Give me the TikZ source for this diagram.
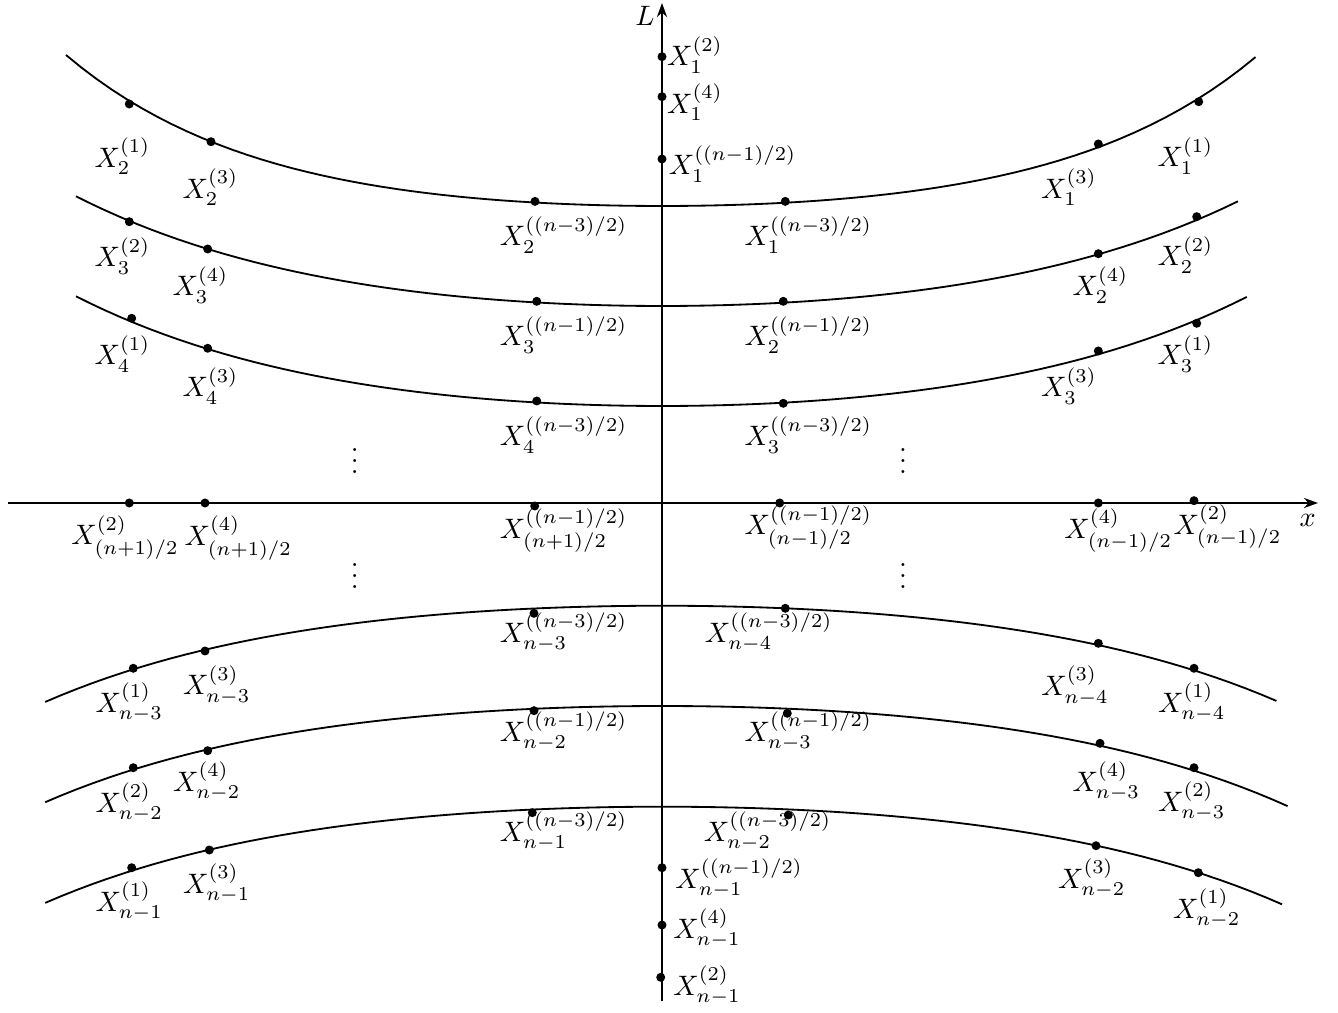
\documentclass[tikz,border=0pt]{standalone}
\usetikzlibrary{arrows.meta}
\begin{document}
\begin{tikzpicture}[>={Stealth[length=5pt,width=3.6pt]},
  dot/.style={circle, fill, inner sep=0pt, minimum size=3.2pt},
  curve/.style={line width=0.65pt},
  axis/.style={line width=0.85pt, ->}]
\useasboundingbox (-8.275,-6.3625) rectangle (8.45,6.2875);
% axes
\coordinate (xl) at (-8.17,0);
\coordinate (xr) at (8.2,0);
\coordinate (lb) at (0,-6.23);
\coordinate (lt) at (0,6.25);
\draw[axis] (xl) -- (xr);
\draw[axis] (lb) -- (lt);
\node (lname) at (-0.2125,6.084) {$L$};
\node (xname) at (8.069,-0.2125) {$x$};
% curves above the x axis
\draw[curve] plot[domain=-7.45:7.42, samples=80] (\x, {3.7125+0.199*(cosh(\x/2.45)-1)});
\draw[curve] plot[domain=-7.325:7.20, samples=80] (\x, {2.4625+0.407*(cosh(\x/3.4)-1)});
\draw[curve] plot[domain=-7.325:7.31, samples=80] (\x, {1.2125+0.407*(cosh(\x/3.4)-1)});
% curves below the x axis
\draw[curve] plot[domain=-7.71:7.68, samples=80] (\x, {-1.284-0.31*(cosh(\x/3.4)-1)});
\draw[curve] plot[domain=-7.71:7.82, samples=80] (\x, {-2.5375-0.31*(cosh(\x/3.4)-1)});
\draw[curve] plot[domain=-7.71:7.75, samples=80] (\x, {-3.796-0.31*(cosh(\x/3.4)-1)});
% points on the L axis
\node[dot] (d12) at (0,5.579) {};
\node (l12) at (0.4125,5.60) {$X_1^{(2)}$};
\node[dot] (d14) at (0,5.079) {};
\node (l14) at (0.4125,5.006) {$X_1^{(4)}$};
\node[dot] (d1b) at (0,4.30) {};
\node (l1b) at (0.881,4.2375) {$X_1^{((n-1)/2)}$};
% first curve
\node[dot] (d21) at (-6.659,4.9875) {};
\node (l21) at (-6.744,4.331) {$X_2^{(1)}$};
\node[dot] (d23) at (-5.6375,4.516) {};
\node (l23) at (-5.644,3.944) {$X_2^{(3)}$};
\node[dot] (d2a) at (-1.5875,3.77) {};
\node (l2a) at (-1.229,3.35) {$X_2^{((n-3)/2)}$};
\node[dot] (d1a) at (1.541,3.77) {};
\node (l1a) at (1.829,3.35) {$X_1^{((n-3)/2)}$};
\node[dot] (d13) at (5.454,4.4875) {};
\node (l13) at (5.0875,3.944) {$X_1^{(3)}$};
\node[dot] (d11) at (6.709,5.016) {};
\node (l11) at (6.544,4.3375) {$X_1^{(1)}$};
% second curve
\node[dot] (d32) at (-6.659,3.516) {};
\node (l32) at (-6.744,3.0875) {$X_3^{(2)}$};
\node[dot] (d34) at (-5.679,3.175) {};
\node (l34) at (-5.769,2.725) {$X_3^{(4)}$};
\node[dot] (d3b) at (-1.566,2.521) {};
\node (l3b) at (-1.229,2.10) {$X_3^{((n-1)/2)}$};
\node[dot] (d2b) at (1.516,2.521) {};
\node (l2b) at (1.829,2.10) {$X_2^{((n-1)/2)}$};
\node[dot] (d24) at (5.454,3.116) {};
\node (l24) at (5.481,2.725) {$X_2^{(4)}$};
\node[dot] (d22) at (6.684,3.579) {};
\node (l22) at (6.544,3.10) {$X_2^{(2)}$};
% third curve
\node[dot] (d41) at (-6.629,2.309) {};
\node (l41) at (-6.744,1.8625) {$X_4^{(1)}$};
\node[dot] (d43) at (-5.679,1.934) {};
\node (l43) at (-5.644,1.4625) {$X_4^{(3)}$};
\node[dot] (d4a) at (-1.566,1.275) {};
\node (l4a) at (-1.229,0.85) {$X_4^{((n-3)/2)}$};
\node[dot] (d3a) at (1.516,1.246) {};
\node (l3a) at (1.829,0.85) {$X_3^{((n-3)/2)}$};
\node[dot] (d33) at (5.454,1.90) {};
\node (l33) at (5.0875,1.4625) {$X_3^{(3)}$};
\node[dot] (d31) at (6.684,2.246) {};
\node (l31) at (6.544,1.8625) {$X_3^{(1)}$};
% dots between the curves
\node (v1) at (-3.839,0.631) {$\vdots$};
\node (v2) at (3.0125,0.631) {$\vdots$};
\node (v3) at (-3.839,-0.806) {$\vdots$};
\node (v4) at (3.0125,-0.806) {$\vdots$};
% points on the x axis
\node[dot] (dh2) at (-6.659,0) {};
\node (lh2) at (-6.7125,-0.431) {$X_{(n+1)/2}^{(2)}$};
\node[dot] (dh4) at (-5.7125,0) {};
\node (lh4) at (-5.296,-0.4375) {$X_{(n+1)/2}^{(4)}$};
\node[dot] (dhb) at (-1.591,-0.0375) {};
\node (lhb) at (-1.231,-0.3475) {$X_{(n+1)/2}^{((n-1)/2)}$};
\node[dot] (dgb) at (1.471,0) {};
\node (lgb) at (1.829,-0.306) {$X_{(n-1)/2}^{((n-1)/2)}$};
\node[dot] (dg4) at (5.454,0) {};
\node (lg4) at (5.704,-0.3475) {$X_{(n-1)/2}^{(4)}$};
\node[dot] (dg2) at (6.65,0.029) {};
\node (lg2) at (7.069,-0.296) {$X_{(n-1)/2}^{(2)}$};
% fourth curve
\node[dot] (dn31) at (-6.609,-2.066) {};
\node (ln31) at (-6.66,-2.491) {$X_{n-3}^{(1)}$};
\node[dot] (dn33) at (-5.7125,-1.85) {};
\node (ln33) at (-5.566,-2.275) {$X_{n-3}^{(3)}$};
\node[dot] (dn3a) at (-1.6,-1.379) {};
\node (ln3a) at (-1.229,-1.619) {$X_{n-3}^{((n-3)/2)}$};
\node[dot] (dn4a) at (1.541,-1.316) {};
\node (ln4a) at (1.334,-1.619) {$X_{n-4}^{((n-3)/2)}$};
\node[dot] (dn43) at (5.454,-1.754) {};
\node (ln43) at (5.1625,-2.285) {$X_{n-4}^{(3)}$};
\node[dot] (dn41) at (6.65,-2.066) {};
\node (ln41) at (6.621,-2.494) {$X_{n-4}^{(1)}$};
% fifth curve
\node[dot] (dn22) at (-6.609,-3.309) {};
\node (ln22) at (-6.66,-3.741) {$X_{n-2}^{(2)}$};
\node[dot] (dn24) at (-5.679,-3.096) {};
\node (ln24) at (-5.691,-3.484) {$X_{n-2}^{(4)}$};
\node[dot] (dn2b) at (-1.6,-2.596) {};
\node (ln2b) at (-1.229,-2.859) {$X_{n-2}^{((n-1)/2)}$};
\node[dot] (dn3b) at (1.566,-2.629) {};
\node (ln3b) at (1.829,-2.859) {$X_{n-3}^{((n-1)/2)}$};
\node[dot] (dn34) at (5.475,-3.004) {};
\node (ln34) at (5.554,-3.484) {$X_{n-3}^{(4)}$};
\node[dot] (dn32) at (6.65,-3.309) {};
\node (ln32) at (6.621,-3.734) {$X_{n-3}^{(2)}$};
% sixth curve
\node[dot] (dn11) at (-6.629,-4.559) {};
\node (ln11) at (-6.66,-4.984) {$X_{n-1}^{(1)}$};
\node[dot] (dn13) at (-5.659,-4.3375) {};
\node (ln13) at (-5.566,-4.754) {$X_{n-1}^{(3)}$};
\node[dot] (dn1a) at (-1.621,-3.871) {};
\node (ln1a) at (-1.229,-4.109) {$X_{n-1}^{((n-3)/2)}$};
\node[dot] (dn2a) at (1.579,-3.90) {};
\node (ln2a) at (1.319,-4.109) {$X_{n-2}^{((n-3)/2)}$};
\node[dot] (dn23) at (5.425,-4.284) {};
\node (ln23) at (5.371,-4.691) {$X_{n-2}^{(3)}$};
\node[dot] (dn21) at (6.704,-4.621) {};
\node (ln21) at (6.809,-5.066) {$X_{n-2}^{(1)}$};
% points on the L axis, below
\node[dot] (dn1b) at (0,-4.559) {};
\node (ln1b) at (0.965,-4.691) {$X_{n-1}^{((n-1)/2)}$};
\node[dot] (dn14) at (0,-5.275) {};
\node (ln14) at (0.5625,-5.316) {$X_{n-1}^{(4)}$};
\node[dot] (dn12) at (-0.016,-5.929) {};
\node (ln12) at (0.5625,-6.034) {$X_{n-1}^{(2)}$};
\end{tikzpicture}
\end{document}
